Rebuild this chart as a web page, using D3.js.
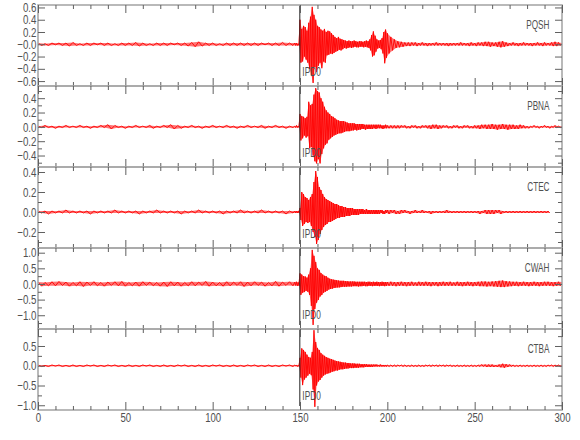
<!DOCTYPE html>
<html>
<head>
<meta charset="utf-8">
<script src="https://cdn.jsdelivr.net/npm/d3@7"></script>
<style>
body { margin: 0; background: #fff; }
svg { display: block; }
text { font-family: "Liberation Sans", Arial, sans-serif; fill: #505050; }
</style>
</head>
<body>
<script>
// station names, top to bottom
const stations = ['PQSH', 'PBNA', 'CTEC', 'CWAH', 'CTBA'];
const pickTime = 149.9;
const pickLabel = 'IPD0';

// y ranges and labelled ticks per panel
const yDomains = [[-0.68, 0.64], [-0.56, 0.57], [-0.36, 0.45], [-1.44, 1.15], [-1.12, 0.93]];
const yTicks = [
	[0.6, 0.4, 0.2, 0, -0.2, -0.4, -0.6],
	[0.4, 0.2, 0, -0.2, -0.4],
	[0.4, 0.2, 0, -0.2],
	[1, 0.5, 0, -0.5, -1],
	[0.5, 0, -0.5, -1]
];
const yTickLabels = [
	['0.6', '0.4', '0.2', '\u22120.0', '\u22120.2', '\u22120.4', '\u22120.6'],
	['0.4', '0.2', '0.0', '\u22120.2', '\u22120.4'],
	['0.4', '0.2', '0.0', '\u22120.2'],
	['1.0', '0.5', '0.0', '\u22120.5', '\u22121.0'],
	['0.5', '0.0', '\u22120.5', '\u22121.0']
];
const yMinorSteps = [0.2, 0.1, 0.1, 0.25, 0.25];
const xTicks = [0, 50, 100, 150, 200, 250, 300];

// sample times (s): 2 s before the event, 0.5 s through it, 1 s after
const sampleTimes = d3.range(0, 147, 2).concat(d3.range(147, 200.5, 0.5), d3.range(201, 301, 1));

// successive trace extremes, in units of 0.01
const pqshQuiet = [2,-2,1,-2,2,-1,2,-2,2,-3,3,-2,1,-2,2,-2,2,-1,2,-2,
	2,-2,1,-2,2,-2,2,-2,3,-3,2,-2,1,-2,2,-2,2,-2,2,-1,
	2,-2,2,-3,3,-4,4,-3,2,-2,2,-2,1,-2,2,-2,2,-2,2,-2,
	2,-2,2,-2,2,-1,2,-2,2,-2,3,-2,2,-2];
const pqshEvent = [2,-2,2,-2,1,-2,
	40,-30,25,-28,30,-20,28,-25,22,-30,
	35,-40,45,-50,61,-63,48,-37,40,-45,
	30,-35,28,-30,24,-39,22,-28,25,-30,
	20,-18,22,-17,21,-15,18,-16,15,-14,
	12,-12,10,-11,12,-9,9,-10,8,-8,
	7,-6,6,-7,5,-6,6,-5,5,-6,
	5,-5,6,-4,5,-5,4,-5,5,-4,
	5,-4,4,-5,5,-4,6,-5,5,-6,
	8,-10,15,-20,21,-18,14,-12,8,-7,
	6,-6,7,-8,10,-15,20,-31,24,-22,
	18];
const pqshTail = [-15,12,-10,8,-6,5,-5,4,-4,3,
	-3,3,-3,3,-2,3,-3,2,-2,3,
	-2,2,-3,2,-2,2,-2,3,-2,2,
	-2,2,-2,2,-3,2,-2,2,-2,2,
	-2,3,-2,2,-2,2,-3,3,-2,2,
	-3,3,-2,3,-3,4,-3,4,-4,3,
	-3,3,-4,4,-5,5,-4,3,-3,2,
	-2,3,-2,2,-3,2,-2,3,-2,2,
	-2,2,-3,2,-2,3,-2,2,-3,3,
	-2,2,-2,3,-3,4,-3,3,-2,2];

const pbnaQuiet = [1,-1,2,-1,1,-2,1,-1,2,-1,1,-1,2,-1,1,-2,1,-1,2,-1,
	3,-3,2,-1,1,-2,1,-1,2,-1,1,-1,2,-2,1,-1,2,-1,3,-3,
	2,-2,1,-1,2,-1,1,-2,1,-1,2,-1,1,-1,2,-1,1,-2,1,-1,
	2,-1,1,-1,2,-2,1,-1,2,-1,1,-2,1,-1];
const pbnaEvent = [1,-1,2,-1,1,-1,
	18,-19,15,-16,14,-12,12,-15,14,-13,
	35,-30,30,-28,32,-40,45,-48,54,-51,
	50,-45,48,-51,40,-38,35,-30,28,-25,
	23,-23,20,-18,18,-16,15,-14,14,-12,
	12,-11,10,-10,9,-9,8,-9,8,-8,
	8,-7,7,-6,6,-6,5,-6,5,-5,
	5,-5,5,-4,4,-5,4,-4,4,-4,
	4,-3,4,-3,3,-4,3,-3,3,-3,
	3,-3,3,-3,3,-2,3,-3,3,-2,
	3,-2,3,-2,2,-3,2,-2,3,-2,
	2];
const pbnaTail = [-2,2,-2,2,-2,2,-2,2,-1,2,
	-2,1,-2,2,-1,2,-2,1,-2,2,
	-1,2,-2,2,-3,3,-2,3,-3,2,
	-2,2,-1,2,-2,1,-2,2,-1,2,
	-2,1,-2,2,-1,2,-2,1,-2,2,
	-2,2,-3,3,-2,3,-3,3,-3,4,
	-3,3,-4,3,-3,4,-3,3,-4,3,
	-3,3,-3,2,-3,3,-2,2,-2,1,
	-2,1,-1,2,-1,1,-2,1,-1,2,
	-1,1,-2,1,-1,2,-1,1,-1,1];

const ctecQuiet = [1,-1,1,-2,1,-1,1,-1,2,-1,1,-1,1,-1,1,-2,1,-1,1,-1,
	1,-1,2,-1,1,-1,1,-1,1,-2,1,-1,1,-1,2,-1,1,-1,1,-1,
	1,-2,1,-1,1,-1,2,-1,1,-1,1,-1,1,-2,1,-1,1,-1,2,-1,
	1,-1,1,-1,2,-1,1,-1,1,-1,1,-2,1,-1];
const ctecEvent = [1,-1,1,-1,1,-1,
	4,-8,20,-14,18,-12,15,-10,14,-11,
	12,-10,15,-14,18,-20,30,-25,41,-32,
	35,-28,25,-22,22,-18,18,-15,15,-13,
	13,-12,12,-10,11,-10,10,-9,9,-8,
	8,-7,8,-6,7,-6,6,-5,6,-5,
	5,-5,5,-4,4,-4,4,-4,4,-3,
	4,-3,3,-3,3,-3,3,-3,3,-2,
	3,-2,3,-2,2,-2,3,-2,2,-2,
	2,-2,2,-2,2,-2,2,-2,2,-2,
	2,-2,2,-1,2,-2,1,-2,2,-1,
	2];
const ctecTail = [-2,2,-1,2,-2,1,-2,2,-1,2,
	-1,1,-2,1,-1,2,-1,1,-1,2,
	-1,1,-1,1,-2,1,-1,1,-1,1,
	-1,1,-1,2,-1,1,-1,1,-1,1,
	-1,1,-1,1,-1,1,-1,1,-1,1,
	-1,1,-2,1,-1,2,-2,2,-2,2,
	-2,2,-1,2,-2,1,-1,1,-1,1,
	-1,1,-1,1,-1,1,-1,1,-1,1,
	-1,1,-1,1,-1,1,-1,1,-1,1,
	-1,1,-1];

const cwahQuiet = [6,-7,5,-6,7,-6,8,-5,6,-7,5,-6,7,-8,6,-5,7,-6,5,-7,
	6,-5,7,-6,8,-7,5,-6,6,-7,7,-5,6,-6,5,-7,6,-8,7,-6,
	6,-7,5,-6,7,-6,6,-5,8,-7,6,-6,5,-7,7,-6,6,-5,7,-8,
	6,-6,7,-5,6,-7,5,-6,8,-7,6,-5,7,-6];
const cwahEvent = [6,-5,7,-6,5,-6,
	34,-35,30,-28,25,-26,24,-22,20,-25,
	30,-35,50,-70,109,-131,90,-80,70,-60,
	50,-51,45,-40,35,-35,30,-28,26,-25,
	25,-22,20,-18,17,-16,15,-15,14,-13,
	13,-12,12,-11,11,-11,10,-10,10,-9,
	10,-9,9,-9,9,-8,8,-8,8,-8,
	8,-7,8,-7,7,-7,7,-8,7,-7,
	7,-7,7,-6,7,-7,6,-7,7,-6,
	7,-6,6,-7,7,-6,6,-6,7,-6,
	6,-7,6,-6,7,-6,6,-7,6,-6,
	6];
const cwahTail = [-6,7,-6,6,-7,6,-6,7,-6,6,
	-7,6,-6,7,-6,5,-6,7,-6,6,
	-6,7,-6,6,-7,6,-5,6,-7,6,
	-6,7,-6,6,-6,7,-6,5,-6,7,
	-6,6,-7,6,-6,7,-6,6,-7,6,
	-6,7,-7,8,-7,8,-8,7,-7,8,
	-8,9,-9,10,-10,11,-10,9,-8,8,
	-7,7,-6,7,-7,6,-6,7,-6,6,
	-7,6,-6,7,-6,6,-7,6,-6,7,
	-6,7,-6,6,-7,6,-6,7,-6,6];

const ctbaQuiet = [2,-2,1,-2,2,-1,2,-2,1,-2,2,-2,1,-2,2,-1,2,-2,1,-2,
	2,-1,2,-2,1,-2,2,-2,1,-2,2,-1,2,-2,1,-2,2,-2,1,-2,
	2,-1,2,-2,1,-2,2,-2,1,-2,2,-1,2,-2,1,-2,2,-2,1,-2,
	2,-1,2,-2,1,-2,2,-2,1,-2,2,-1,2,-2];
const ctbaEvent = [2,-1,2,-2,1,-2,
	20,-30,44,-49,40,-35,35,-30,28,-25,
	22,-20,20,-24,35,-60,90,-104,60,-50,
	45,-40,40,-36,32,-30,28,-25,25,-22,
	22,-20,20,-19,18,-17,17,-15,15,-14,
	13,-12,12,-12,11,-10,10,-9,9,-9,
	8,-8,8,-7,7,-7,7,-6,6,-6,
	6,-6,6,-5,5,-5,5,-5,5,-4,
	4,-4,4,-4,4,-3,4,-3,3,-3,
	3,-3,3,-3,3,-2,3,-2,3,-2,
	2,-2,3,-2,2,-2,2,-2,2,-2,
	2];
const ctbaTail = [-2,2,-2,2,-2,2,-1,2,-2,2,
	-2,1,-2,2,-2,1,-2,2,-2,1,
	-2,2,-1,2,-2,2,-1,2,-2,2,
	-1,2,-2,2,-1,2,-2,1,-2,2,
	-2,1,-2,2,-2,1,-2,2,-2,1,
	-2,2,-2,3,-2,3,-3,3,-3,3,
	-3,2,-3,3,-4,5,-5,4,-3,3,
	-2,2,-2,1,-2,2,-2,1,-2,2,
	-2,1,-2,2,-2,1,-2,2,-2,1,
	-2,2,-1,2,-2,2,-1,2,-2,2];

const traces = [
	pqshQuiet.concat(pqshEvent, pqshTail),
	pbnaQuiet.concat(pbnaEvent, pbnaTail),
	ctecQuiet.concat(ctecEvent, ctecTail),
	cwahQuiet.concat(cwahEvent, cwahTail),
	ctbaQuiet.concat(ctbaEvent, ctbaTail)
];

const width = 580;
const height = 440;
const paddingLeft = 38;
const paddingRight = 18;
const paddingTop = 5;
const panelHeight = 81;
const frameColor = '#a8a8a8';
const tickColor = '#606060';
const labelFont = '"Liberation Sans", Arial, sans-serif';

const svg = d3.select('body').append('svg').attr('width', width).attr('height', height);

const xScale = d3.scaleLinear().domain([0, 300]).range([paddingLeft, width - paddingRight]);
const xMinor = d3.range(0, 301, 10).filter((d) => d % 50 !== 0);

svg.append('defs').append('clipPath').attr('id', 'plot-clip')
	.append('rect')
	.attr('x', paddingLeft).attr('y', paddingTop)
	.attr('width', width - paddingLeft - paddingRight)
	.attr('height', panelHeight * stations.length);

function styleAxis(g) {
	g.select('.domain').remove();
	g.selectAll('line').attr('stroke', tickColor);
}

function styleLabels(sx) {
	return (g) => g.selectAll('text')
		.attr('transform', `scale(${sx},1)`)
		.style('font-size', '13px')
		.style('font-family', labelFont)
		.attr('fill', '#505050');
}

stations.forEach((station, i) => {
	const top = paddingTop + i * panelHeight;
	const bottom = top + panelHeight;
	const yScale = d3.scaleLinear().domain(yDomains[i]).range([bottom, top]);
	const panel = svg.append('g').attr('class', 'panel');

	// trace: envelope band from the extremes, then the wiggle itself
	const points = traces[i].map((v, k) => [sampleTimes[k], v / 100]);
	const line = d3.line().x((d) => xScale(d[0])).y((d) => yScale(d[1]));
	const upper = points.filter((d) => d[1] >= 0);
	const lower = points.filter((d) => d[1] < 0).reverse();
	panel.append('path')
		.attr('d', line(upper.concat(lower)) + 'Z')
		.attr('clip-path', 'url(#plot-clip)')
		.attr('fill', '#ff0000')
		.attr('fill-opacity', 0.55)
		.attr('stroke', 'none');
	panel.append('path')
		.attr('d', line(points))
		.attr('clip-path', 'url(#plot-clip)')
		.attr('fill', 'none')
		.attr('stroke', '#ff0000')
		.attr('stroke-width', 0.9);

	// pick marker
	panel.append('line')
		.attr('x1', xScale(pickTime)).attr('x2', xScale(pickTime))
		.attr('y1', top).attr('y2', bottom - 4)
		.attr('stroke', '#222').attr('stroke-width', 1);
	panel.append('text')
		.attr('transform', `translate(${xScale(pickTime) + 2.5},${top + 71}) scale(0.64,1)`)
		.style('font-size', '13px')
		.text(pickLabel);

	// station name
	panel.append('text')
		.attr('transform', `translate(${width - paddingRight - 12.5},${top + 24}) scale(0.63,1)`)
		.attr('text-anchor', 'end')
		.style('font-size', '13px')
		.text(station);

	// frame
	panel.append('rect')
		.attr('x', paddingLeft).attr('y', top)
		.attr('width', width - paddingLeft - paddingRight).attr('height', panelHeight)
		.attr('fill', 'none').attr('stroke', frameColor).attr('stroke-width', 1.6);

	// y axes, left with labels and right without
	const [lo, hi] = yDomains[i];
	const step = yMinorSteps[i];
	const yMinor = d3.range(Math.ceil(lo / step), Math.floor(hi / step) + 1)
		.map((k) => +(k * step).toFixed(3))
		.filter((d) => !yTicks[i].some((t) => Math.abs(t - d) < 1e-6));

	panel.append('g')
		.attr('transform', `translate(${paddingLeft},0)`)
		.call(d3.axisLeft(yScale).tickValues(yTicks[i]).tickSize(-7).tickPadding(2)
			.tickFormat((d, j) => yTickLabels[i][j]))
		.call(styleAxis)
		.call(styleLabels(0.75));
	panel.append('g')
		.attr('transform', `translate(${paddingLeft},0)`)
		.call(d3.axisLeft(yScale).tickValues(yMinor).tickSize(-4).tickFormat(''))
		.call(styleAxis);
	panel.append('g')
		.attr('transform', `translate(${width - paddingRight},0)`)
		.call(d3.axisRight(yScale).tickValues(yTicks[i]).tickSize(-7).tickFormat(''))
		.call(styleAxis);
	panel.append('g')
		.attr('transform', `translate(${width - paddingRight},0)`)
		.call(d3.axisRight(yScale).tickValues(yMinor).tickSize(-4).tickFormat(''))
		.call(styleAxis);

	// x ticks on top and bottom of every panel, labels under the last one
	panel.append('g')
		.attr('transform', `translate(0,${top})`)
		.call(d3.axisTop(xScale).tickValues(xTicks).tickSize(-8).tickFormat(''))
		.call(styleAxis);
	panel.append('g')
		.attr('transform', `translate(0,${top})`)
		.call(d3.axisTop(xScale).tickValues(xMinor).tickSize(-4).tickFormat(''))
		.call(styleAxis);
	const isLast = i === stations.length - 1;
	panel.append('g')
		.attr('transform', `translate(0,${bottom})`)
		.call(d3.axisBottom(xScale).tickValues(xTicks).tickSize(-8).tickPadding(3)
			.tickFormat(isLast ? d3.format('d') : ''))
		.call(styleAxis)
		.call(styleLabels(0.74));
	panel.append('g')
		.attr('transform', `translate(0,${bottom})`)
		.call(d3.axisBottom(xScale).tickValues(xMinor).tickSize(-4).tickFormat(''))
		.call(styleAxis);
});
</script>
</body>
</html>
